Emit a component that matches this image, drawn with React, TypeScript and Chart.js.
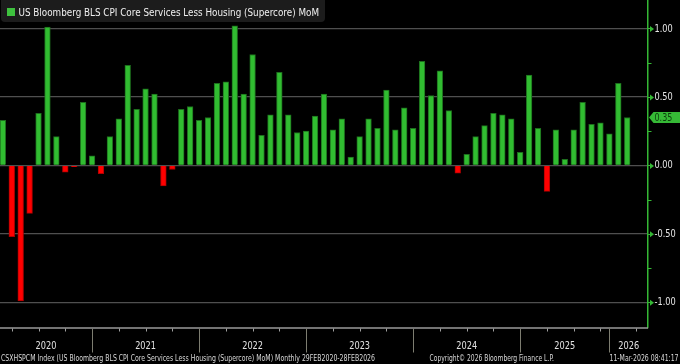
import React, { useEffect, useRef } from 'react';
import { Chart, registerables } from 'chart.js';

Chart.register(...registerables);

// Monthly observations (Oct & Nov 2025 not available)
const months = [
  '2020-02', '2020-03', '2020-04', '2020-05', '2020-06', '2020-07', '2020-08', '2020-09', '2020-10', '2020-11', '2020-12',
  '2021-01', '2021-02', '2021-03', '2021-04', '2021-05', '2021-06', '2021-07', '2021-08', '2021-09', '2021-10', '2021-11', '2021-12',
  '2022-01', '2022-02', '2022-03', '2022-04', '2022-05', '2022-06', '2022-07', '2022-08', '2022-09', '2022-10', '2022-11', '2022-12',
  '2023-01', '2023-02', '2023-03', '2023-04', '2023-05', '2023-06', '2023-07', '2023-08', '2023-09', '2023-10', '2023-11', '2023-12',
  '2024-01', '2024-02', '2024-03', '2024-04', '2024-05', '2024-06', '2024-07', '2024-08', '2024-09', '2024-10', '2024-11', '2024-12',
  '2025-01', '2025-02', '2025-03', '2025-04', '2025-05', '2025-06', '2025-07', '2025-08', '2025-09', '2025-12',
  '2026-01', '2026-02',
];

const values = [
  0.33, -0.52, -0.99, -0.35, 0.38, 1.01, 0.21, -0.05, -0.01, 0.46, 0.07,
  -0.06, 0.21, 0.34, 0.73, 0.41, 0.56, 0.52, -0.15, -0.03, 0.41, 0.43, 0.33,
  0.35, 0.60, 0.61, 1.02, 0.52, 0.81, 0.22, 0.37, 0.68, 0.37, 0.24, 0.25,
  0.36, 0.52, 0.26, 0.34, 0.06, 0.21, 0.34, 0.27, 0.55, 0.26, 0.42, 0.27,
  0.76, 0.51, 0.69, 0.40, -0.056, 0.08, 0.21, 0.29, 0.38, 0.37, 0.34, 0.095,
  0.66, 0.27, -0.19, 0.26, 0.044, 0.26, 0.46, 0.30, 0.31, 0.23,
  0.60, 0.35,
];

const yearLabels = ['2020', '2021', '2022', '2023', '2024', '2025', '2026'];
// observation index sitting on each Jan-1 boundary (December data point)
const yearBoundaryIdx = [10, 22, 34, 46, 58, 68];
// quarter ticks (Mar/Jun/Sep observations, plus next Mar)
const quarterTickIdx = [1, 4, 7, 13, 16, 19, 25, 28, 31, 37, 40, 43, 49, 52, 55, 61, 64, 67, 71];
const majorTicks = [-1, -0.5, 0, 0.5, 1];
const minorTicks = [-0.75, -0.25, 0.25, 0.75];

const titleText = 'US Bloomberg BLS CPI Core Services Less Housing (Supercore) MoM';
const footerLeft = 'CSXHSPCM Index (US Bloomberg BLS CPI Core Services Less Housing (Supercore) MoM) Monthly 29FEB2020-28FEB2026';
const footerMid = 'Copyright\u00A9 2026 Bloomberg Finance L.P.';
const footerRight = '11-Mar-2026 08:41:17';

const GREEN = '#31bd31';
const GREEN_EDGE = '#1d6e1d';
const RED = '#ff0000';
const RED_EDGE = '#b00000';
const AXIS_GREEN = '#35b835';
const FONT = "'DejaVu Sans'";

function drawText(
  ctx: CanvasRenderingContext2D,
  text: string,
  x: number,
  y: number,
  opts: { size: number; color: string; width?: number; scale?: number; align?: 'left' | 'center' }
) {
  ctx.save();
  ctx.font = `${opts.size}px ${FONT}`;
  ctx.fillStyle = opts.color;
  ctx.textBaseline = 'middle';
  ctx.textAlign = 'left';
  const m = ctx.measureText(text).width;
  const s = opts.width ? opts.width / m : opts.scale ?? 1;
  const w = m * s;
  const x0 = opts.align === 'center' ? x - w / 2 : x;
  ctx.translate(x0, y);
  ctx.scale(s, 1);
  ctx.fillText(text, 0, 0);
  ctx.restore();
}

const decorPlugin = {
  id: 'decor',
  beforeDraw(chart: any) {
    const { ctx, width, height } = chart;
    ctx.save();
    ctx.fillStyle = '#000';
    ctx.fillRect(0, 0, width, height);
    ctx.restore();
  },
  afterDraw(chart: any) {
    const ctx: CanvasRenderingContext2D = chart.ctx;
    const xs = chart.scales.x;
    const ys = chart.scales.y;
    const area = chart.chartArea;
    const bottom = area.bottom;

    // bottom axis line
    ctx.save();
    ctx.strokeStyle = '#9a9a9a';
    ctx.lineWidth = 1.5;
    ctx.beginPath();
    ctx.moveTo(area.left, bottom + 0.5);
    ctx.lineTo(area.right, bottom + 0.5);
    ctx.stroke();

    // quarter ticks
    ctx.strokeStyle = '#a0a0a0';
    ctx.lineWidth = 1;
    quarterTickIdx.forEach((i) => {
      const px = Math.round(xs.getPixelForValue(i)) + 0.5;
      ctx.beginPath();
      ctx.moveTo(px, bottom + 1);
      ctx.lineTo(px, bottom + 4);
      ctx.stroke();
    });

    // year separators
    ctx.strokeStyle = '#7d7d70';
    yearBoundaryIdx.forEach((i) => {
      const px = Math.round(xs.getPixelForValue(i)) + 0.5;
      ctx.beginPath();
      ctx.moveTo(px, bottom + 1);
      ctx.lineTo(px, bottom + 25);
      ctx.stroke();
    });
    ctx.restore();

    // year labels
    const bounds = [area.left, ...yearBoundaryIdx.map((i) => xs.getPixelForValue(i)), area.right];
    yearLabels.forEach((lab, k) => {
      const cx = (bounds[k] + bounds[k + 1]) / 2;
      drawText(ctx, lab, cx, 346, { size: 10, color: '#e2e2e2', scale: 0.82, align: 'center' });
    });

    // right axis ticks & labels
    const axX = area.right;
    ctx.save();
    ctx.strokeStyle = AXIS_GREEN;
    ctx.fillStyle = AXIS_GREEN;
    ctx.lineWidth = 1;
    minorTicks.forEach((v) => {
      const py = Math.round(ys.getPixelForValue(v)) + 0.5;
      ctx.beginPath();
      ctx.moveTo(axX, py);
      ctx.lineTo(axX + 3.5, py);
      ctx.stroke();
    });
    majorTicks.forEach((v) => {
      const py = ys.getPixelForValue(v);
      ctx.beginPath();
      ctx.moveTo(axX, Math.round(py) + 0.5);
      ctx.lineTo(axX + 3, Math.round(py) + 0.5);
      ctx.stroke();
      ctx.beginPath();
      ctx.moveTo(axX + 2, py - 2.5);
      ctx.lineTo(axX + 6, py + 0.5);
      ctx.lineTo(axX + 2, py + 3.5);
      ctx.closePath();
      ctx.fill();
    });
    ctx.restore();
    majorTicks.forEach((v) => {
      const py = ys.getPixelForValue(v);
      drawText(ctx, v.toFixed(2), axX + 6.5, py + 0.5, { size: 10, color: '#e6e6e6', scale: 0.82 });
    });

    // last value tag
    const last = values[values.length - 1];
    const ly = ys.getPixelForValue(last);
    ctx.save();
    ctx.fillStyle = '#36b936';
    ctx.beginPath();
    ctx.moveTo(axX + 1, ly);
    ctx.lineTo(axX + 5.5, ly - 5.5);
    ctx.lineTo(680, ly - 5.5);
    ctx.lineTo(680, ly + 5.5);
    ctx.lineTo(axX + 5.5, ly + 5.5);
    ctx.closePath();
    ctx.fill();
    ctx.restore();
    drawText(ctx, last.toFixed(2), axX + 6.5, ly + 0.5, { size: 10, color: '#0c3e0c', scale: 0.8 });

    // legend box
    ctx.save();
    ctx.fillStyle = '#1c1c1c';
    ctx.beginPath();
    (ctx as any).roundRect(1, -4, 324, 26, 4);
    ctx.fill();
    ctx.fillStyle = '#3ec13e';
    ctx.fillRect(7, 8, 8, 8);
    ctx.restore();
    drawText(ctx, titleText, 18.5, 13, { size: 10, color: '#f0f0f0', width: 300.5 });

    // footer
    drawText(ctx, footerLeft, 1, 359, { size: 8, color: '#d8d8d8', width: 374 });
    drawText(ctx, footerMid, 429.5, 359, { size: 8, color: '#d8d8d8', width: 124.5 });
    drawText(ctx, footerRight, 609.5, 359, { size: 8, color: '#d8d8d8', width: 69 });
  },
};

export default function App() {
  const ref = useRef<HTMLCanvasElement | null>(null);

  useEffect(() => {
    document.body.style.margin = '0';
    document.body.style.background = '#000';
    const canvas = ref.current;
    if (!canvas) return;

    const chart = new Chart(canvas, {
      type: 'bar',
      data: {
        datasets: [
          {
            label: titleText,
            data: values.map((v, i) => ({ x: i, y: v })),
            backgroundColor: values.map((v) => (v >= 0 ? GREEN : RED)),
            borderColor: values.map((v) => (v >= 0 ? GREEN_EDGE : RED_EDGE)),
            borderWidth: 1,
            barThickness: 5.7,
          } as any,
        ],
      },
      options: {
        animation: false,
        responsive: false,
        devicePixelRatio: 1,
        layout: { padding: { left: 0, right: 0, top: 0, bottom: 36.5 } },
        plugins: {
          legend: { display: false },
          tooltip: { enabled: false },
        },
        scales: {
          x: {
            type: 'linear',
            min: -0.32,
            max: 72.33,
            display: false,
            offset: false,
          },
          y: {
            position: 'right',
            min: -1.184,
            max: 1.208,
            afterBuildTicks: (s: any) => {
              s.ticks = [...majorTicks, ...minorTicks].sort((a, b) => a - b).map((v) => ({ value: v }));
            },
            afterFit: (s: any) => {
              s.width = 32;
              s.paddingTop = 0;
              s.paddingBottom = 0;
            },
            ticks: { display: false },
            grid: {
              drawTicks: false,
              color: (c: any) => (c.tick && majorTicks.includes(c.tick.value) ? '#4f4f4f' : 'rgba(0,0,0,0)'),
              lineWidth: 1.2,
            },
            border: { color: AXIS_GREEN, width: 1.5 },
          },
        },
      } as any,
      plugins: [decorPlugin],
    });

    return () => chart.destroy();
  }, []);

  return (
    <div style={{ width: 680, height: 364, background: '#000' }}>
      <canvas ref={ref} width={680} height={364} style={{ display: 'block' }} />
    </div>
  );
}
